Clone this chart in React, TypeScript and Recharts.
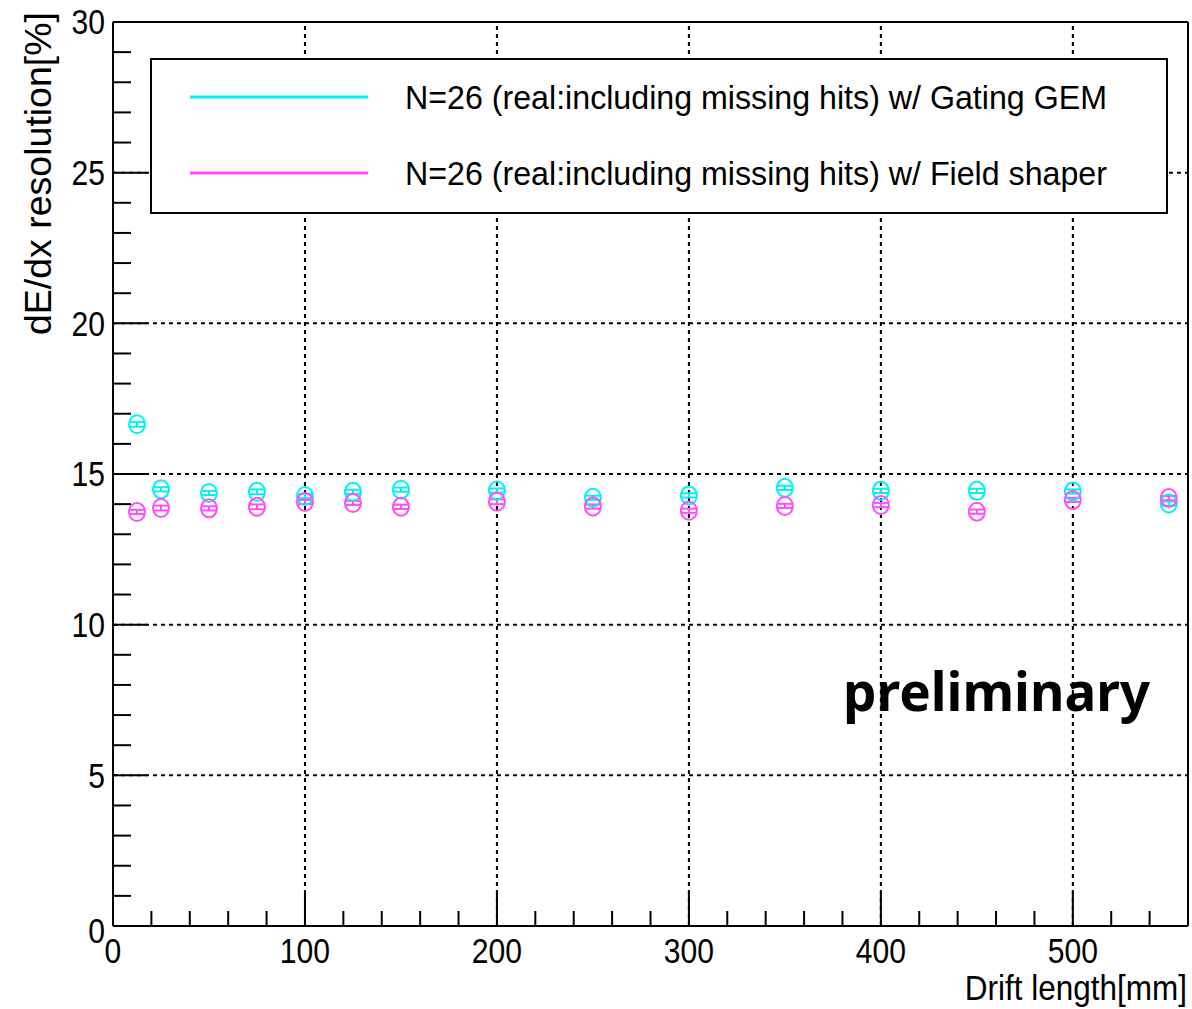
import React from 'react';
import {
  ScatterChart,
  Scatter,
  XAxis,
  YAxis,
  ReferenceLine,
  ErrorBar,
  Legend,
} from 'recharts';

const driftLength = [12.5, 25, 50, 75, 100, 125, 150, 200, 250, 300, 350, 400, 450, 500, 550];
const gatingGem = [16.65, 14.49, 14.37, 14.41, 14.27, 14.41, 14.48, 14.45, 14.21, 14.29, 14.54, 14.44, 14.44, 14.42, 14.02];
const fieldShaper = [13.74, 13.87, 13.86, 13.91, 14.07, 14.04, 13.91, 14.08, 13.92, 13.78, 13.94, 13.97, 13.75, 14.14, 14.2];
const gemErr = [0.08, 0.07, 0.07, 0.08, 0.07, 0.07, 0.07, 0.07, 0.07, 0.07, 0.07, 0.07, 0.07, 0.07, 0.07];
const shaperErr = [0.07, 0.08, 0.07, 0.08, 0.07, 0.07, 0.07, 0.08, 0.07, 0.07, 0.07, 0.07, 0.07, 0.07, 0.07];

const xTicks = [0, 20, 40, 60, 80, 100, 120, 140, 160, 180, 200, 220, 240, 260, 280, 300, 320, 340, 360, 380, 400, 420, 440, 460, 480, 500, 520, 540, 560];
const yTicks = Array.from({ length: 31 }, (_, i) => i);
const xGrid = [100, 200, 300, 400, 500];
const yGrid = [5, 10, 15, 20, 25];

const legendLabels = [
  'N=26 (real:including missing hits) w/ Gating GEM',
  'N=26 (real:including missing hits) w/ Field shaper',
];

const CYAN = '#00f2f2';
const MAGENTA = '#ff4dff';
const FONT = '"Liberation Sans", Arial, sans-serif';

const gemData = driftLength.map((x, i) => ({ x, y: gatingGem[i], err: gemErr[i] }));
const shaperData = driftLength.map((x, i) => ({ x, y: fieldShaper[i], err: shaperErr[i] }));

const marker = (color: string) => (props: any) => {
  const { cx, cy } = props;
  return <ellipse cx={cx} cy={cy} rx={8} ry={9} fill="none" stroke={color} strokeWidth={2} />;
};

// ROOT style: ticks drawn inside the frame, condensed Helvetica labels
const YTick = (props: any) => {
  const { x, y, payload } = props;
  const v = payload.value;
  const major = v % 5 === 0;
  const tx = x - 8;
  return (
    <g>
      <line x1={x} y1={y} x2={x + (major ? 34 : 18)} y2={y} stroke="#000" strokeWidth={2} />
      {major && (
        <text
          x={tx}
          y={y + (v === 0 ? 17 : 12.5)}
          textAnchor="end"
          fontSize={35}
          fontFamily={FONT}
          fill="#000"
          transform={`translate(${tx},0) scale(0.86,1) translate(${-tx},0)`}
        >
          {v}
        </text>
      )}
    </g>
  );
};

const XTick = (props: any) => {
  const { x, y, payload } = props;
  const v = payload.value;
  const major = v % 100 === 0;
  if (v === 560) return null;
  return (
    <g>
      <line x1={x} y1={y} x2={x} y2={y - (major ? 34 : 15)} stroke="#000" strokeWidth={2} />
      {major && (
        <text
          x={x}
          y={y + 37}
          textAnchor="middle"
          fontSize={35}
          fontFamily={FONT}
          fill="#000"
          transform={`translate(${x},0) scale(0.86,1) translate(${-x},0)`}
        >
          {v}
        </text>
      )}
    </g>
  );
};

const LegendBox = () => (
  <svg width={1018} height={156} style={{ display: 'block' }}>
    <rect x={1} y={1} width={1016} height={154} fill="#fff" stroke="#000" strokeWidth={2} />
    {legendLabels.map((label, i) => {
      const cy = 39 + i * 76;
      return (
        <g key={label}>
          <line x1={40} y1={cy} x2={218} y2={cy} stroke={i === 0 ? CYAN : MAGENTA} strokeWidth={3} />
          <text x={255} y={cy + 12} fontSize={33} fontFamily={FONT} textLength={702} lengthAdjust="spacingAndGlyphs" fill="#000">
            {label}
          </text>
        </g>
      );
    })}
  </svg>
);

export default function App() {
  return (
    <div style={{ position: 'absolute', left: 0, top: 0, width: 1192, height: 1009, background: '#fff' }}>
      <ScatterChart width={1192} height={1009} margin={{ top: 22, right: 4, bottom: 0, left: 0 }}>
        <XAxis
          type="number"
          dataKey="x"
          domain={[0, 560]}
          ticks={xTicks}
          interval={0}
          tickSize={0}
          tickMargin={0}
          tickLine={false}
          tick={<XTick />}
          height={83}
          axisLine={{ stroke: '#000', strokeWidth: 2 }}
          allowDataOverflow
        />
        <YAxis
          type="number"
          dataKey="y"
          domain={[0, 30]}
          ticks={yTicks}
          interval={0}
          tickSize={0}
          tickMargin={0}
          tickLine={false}
          tick={<YTick />}
          width={113}
          axisLine={{ stroke: '#000', strokeWidth: 2 }}
          allowDataOverflow
        />
        {xGrid.map((v) => (
          <ReferenceLine key={`gx${v}`} x={v} stroke="#000" strokeWidth={2} strokeDasharray="4 4" />
        ))}
        {yGrid.map((v) => (
          <ReferenceLine key={`gy${v}`} y={v} stroke="#000" strokeWidth={2} strokeDasharray="4 4" />
        ))}
        <ReferenceLine y={30} stroke="#000" strokeWidth={2} />
        <ReferenceLine x={560} stroke="#000" strokeWidth={2} />
        <Legend
          layout="horizontal"
          align="center"
          verticalAlign="middle"
          content={() => <LegendBox />}
          wrapperStyle={{ position: 'absolute', left: 150, top: 58, width: 1018, height: 156 }}
        />
        <Scatter data={gemData} fill="none" shape={marker(CYAN)} isAnimationActive={false}>
          <ErrorBar dataKey="err" direction="y" width={8} stroke={CYAN} strokeWidth={2} />
        </Scatter>
        <Scatter data={shaperData} fill="none" shape={marker(MAGENTA)} isAnimationActive={false}>
          <ErrorBar dataKey="err" direction="y" width={8} stroke={MAGENTA} strokeWidth={2} />
        </Scatter>
      </ScatterChart>
      <svg
        width={1192}
        height={1009}
        style={{ position: 'absolute', left: 0, top: 0, pointerEvents: 'none' }}
      >
        <text
          transform="translate(51,335) rotate(-90)"
          x={0}
          y={0}
          fontSize={37}
          fontFamily={FONT}
          textLength={323}
          lengthAdjust="spacingAndGlyphs"
          fill="#000"
        >
          dE/dx resolution[%]
        </text>
        <text
          x={1187}
          y={1000}
          textAnchor="end"
          fontSize={35}
          fontFamily={FONT}
          fill="#000"
          transform="translate(1187,0) scale(0.9,1) translate(-1187,0)"
        >
          Drift length[mm]
        </text>
      </svg>
      <div
        style={{
          position: 'absolute',
          left: 843,
          top: 660,
          fontFamily: '"Noto Sans", "Open Sans", sans-serif',
          fontWeight: 700,
          fontSize: 53,
          lineHeight: '62px',
          color: '#000',
          whiteSpace: 'nowrap',
        }}
      >
        preliminary
      </div>
    </div>
  );
}
